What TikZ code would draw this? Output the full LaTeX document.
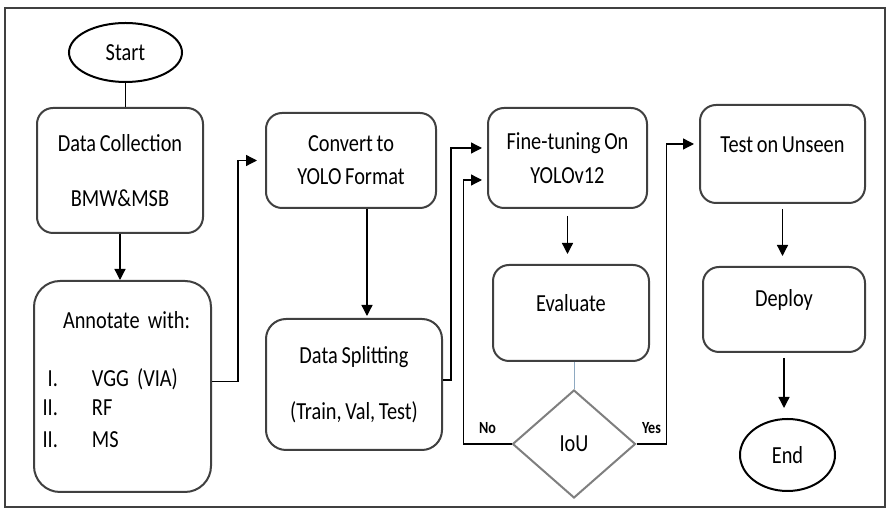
\documentclass[tikz,border=0pt]{standalone}
\usepackage{fontspec}
\setmainfont{Carlito}[FakeStretch=0.83, WordSpace=0.8]
\usetikzlibrary{shapes,arrows.meta,positioning}
\definecolor{boxgray}{HTML}{404040}
\definecolor{decgray}{HTML}{7F7F7F}
\definecolor{linkblue}{HTML}{8EA9C1}

\begin{document}
\begin{tikzpicture}[x=1pt, y=1pt, node distance=10mm, line width=1.3pt, >={Triangle[length=11pt,width=11pt]}]
  \tikzstyle{box} = [draw=boxgray, line width=2pt, rectangle, rounded corners=16pt, align=center, inner sep=0pt, font=\fontsize{24.5}{29}\selectfont]
  \tikzstyle{term} = [draw, line width=2pt, ellipse, inner sep=0pt, font=\fontsize{24.5}{29}\selectfont]
  \tikzstyle{decide} = [draw=decgray, line width=2pt, diamond, inner sep=0pt, font=\fontsize{24.5}{29}\selectfont]
  \tikzstyle{tag} = [inner sep=0pt, font=\fontsize{17}{20}\selectfont\bfseries]
  \useasboundingbox (0,0) rectangle (887,511);
  \draw[boxgray, line width=1.5pt] (5,4) rectangle (885,503);

  % first column
  \node[term, minimum width=113pt, minimum height=59pt] (start) at (125.5,458.5) {Start};
  \node[box, minimum width=166pt, minimum height=125pt] (collect) at (120,340.5) {Data Collection\\[26pt]BMW\&MSB};
  \node[box, below=46pt of collect, xshift=2.5pt, minimum height=211pt, text width=177pt, align=left, rounded corners=26pt] (annot)
    {\hspace*{29pt}Annotate with:\\[29pt]
     \makebox[24pt][r]{I.}\hspace{34pt}VGG (VIA)\\
     \makebox[24pt][r]{II.}\hspace{34pt}RF\\[3pt]
     \makebox[24pt][r]{II.}\hspace{34pt}MS\rule[-14pt]{0pt}{14pt}};

  % second column
  \node[box, minimum width=170pt, minimum height=95pt] (convert) at (351,350.5) {Convert to\\[4pt]YOLO Format};
  \node[box, below=109pt of convert, xshift=3pt, minimum width=176pt, minimum height=131pt, rounded corners=20pt] (split) {Data Splitting\\[27pt](Train, Val, Test)};

  % third column
  \node[box, minimum width=159pt, minimum height=100pt] (tune) at (567.5,353) {Fine-tuning On\\[5pt]YOLOv12};
  \node[box, below=55pt of tune, xshift=3.5pt, minimum width=156pt, minimum height=96pt, text height=16pt, text depth=19pt] (eval) {Evaluate};
  \node[decide, below=27pt of eval, xshift=3pt, minimum width=123pt, minimum height=108pt] (iou) {IoU};

  % fourth column
  \node[box, minimum width=165pt, minimum height=98pt, text height=16pt, text depth=19pt] (test) at (782.5,357) {Test on Unseen};
  \node[box, below=62pt of test, xshift=1.5pt, minimum width=162pt, minimum height=85pt, text height=16pt, text depth=21pt] (deploy) {Deploy};
  \node[term, below=65pt of deploy, xshift=3.5pt, minimum width=95pt, minimum height=72pt] (end) {End};

  % links
  \draw (start.south) -- (start.south |- collect.north);
  \draw[->] (collect.south) -- (collect.south |- annot.north);
  \draw[->, shorten >=8pt] ([yshift=5pt]annot.east) -- ++(26,0) |- (convert.west);
  \draw[->, shorten >=2pt] ([xshift=16pt]convert.south) -- ([xshift=16pt]convert.south |- split.north);
  \draw[->, shorten >=5pt] ([yshift=4.5pt]split.east) -- ++(8,0) |- ([yshift=10pt]tune.west);
  \draw[->, shorten <=7pt, shorten >=10pt] (tune.south) -- (tune.south |- eval.north);
  \draw[linkblue, line width=0.8pt] (iou.north |- eval.south) -- (iou.north);
  \draw[->, shorten >=5pt] (iou.west) -- node[tag, above=9.5pt] {No} ++(-48,0) |- ([yshift=-22pt]tune.west);
  \draw[->, shorten >=5pt] (iou.east) -- node[tag, above=9.5pt] {Yes} ++(30,0) |- ([yshift=10pt]test.west);
  \draw[->, shorten <=5pt, shorten >=10pt] (test.south) -- (test.south |- deploy.north);
  \draw[->, shorten <=5pt, shorten >=10pt] (deploy.south) -- (deploy.south |- end.north);
\end{tikzpicture}
\end{document}
